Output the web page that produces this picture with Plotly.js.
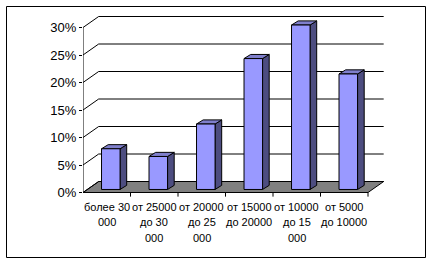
<!DOCTYPE html>
<html>
<head>
<meta charset="utf-8">
<script src="https://cdn.plot.ly/plotly-3.0.1.min.js"></script>
<style>html,body{margin:0;padding:0;background:#fff;}</style>
</head>
<body>
<div id="chart" style="width:431px;height:263px;"></div>
<script>
// ---- data ----
var categories = [
  "более 30<br>000",
  "от 25000<br>до 30<br>000",
  "от 20000<br>до 25<br>000",
  "от 15000<br>до 20000",
  "от 10000<br>до 15<br>000",
  "от 5000<br>до 10000"
];
var values = [7.4, 6.0, 11.9, 23.8, 29.9, 21.0]; // percent
var yTickVals = [0, 5, 10, 15, 20, 25, 30];
var yTickText = ["0%", "5%", "10%", "15%", "20%", "25%", "30%"];

// ---- 3D-look geometry (in data units) ----
var n = categories.length;
var DX = 0.33, DY = 2.0;       // depth of the whole chart (floor/back wall offset)
var HW = 0.195;                // half width of a bar
var XS = 0.085, YS = 0.55;     // bar front face offset into depth
var BDX = 0.14, BDY = 0.75;    // bar depth

var traces = [];
var lineStyle = {color: "#000", width: 1};

// floor
traces.push({x: [0, n, n + DX, DX, 0], y: [0, 0, DY, DY, 0], mode: "lines", fill: "toself",
  fillcolor: "#808080", line: lineStyle, hoverinfo: "skip"});

// back wall gridlines & left wall diagonals
var gx = [], gy = [];
yTickVals.forEach(function (v) {
  gx.push(DX, n + DX, null); gy.push(v + DY, v + DY, null);
  gx.push(0, DX, null); gy.push(v, v + DY, null);
});
traces.push({x: gx, y: gy, mode: "lines", line: lineStyle, hoverinfo: "skip"});

// front axes with ticks
var ax = [0, 0, null, 0, n, null], ay = [yTickVals[yTickVals.length - 1], 0, null, 0, 0, null];
for (var k = 1; k <= n; k++) { ax.push(k, k, null); ay.push(0, -0.75, null); }
traces.push({x: ax, y: ay, mode: "lines", line: lineStyle, hoverinfo: "skip"});

// bars: front, side, top faces
var fx = [], fy = [], sx = [], sy = [], tx = [], ty = [];
values.forEach(function (v, i) {
  var xl = i + 0.5 - HW + XS, xr = i + 0.5 + HW + XS;
  var yb = YS, yt = v + YS;
  fx.push(xl, xr, xr, xl, xl, null); fy.push(yb, yb, yt, yt, yb, null);
  sx.push(xr, xr + BDX, xr + BDX, xr, xr, null); sy.push(yb, yb + BDY, yt + BDY, yt, yb, null);
  tx.push(xl, xr, xr + BDX, xl + BDX, xl, null); ty.push(yt, yt, yt + BDY, yt + BDY, yt, null);
});
traces.push({x: sx, y: sy, mode: "lines", fill: "toself", fillcolor: "#4d4d80", line: lineStyle, hoverinfo: "skip"});
traces.push({x: tx, y: ty, mode: "lines", fill: "toself", fillcolor: "#7f7fcc", line: lineStyle, hoverinfo: "skip"});
traces.push({x: fx, y: fy, mode: "lines", fill: "toself", fillcolor: "#9999ff", line: lineStyle, hoverinfo: "skip"});

var L = 83, R = 44, T = 11, B = 65, W = 431, H = 263;
var pw = W - L - R, ph = H - T - B;
function px2x(p) { return (p - L) / pw; }
function py2y(p) { return (H - B - p) / ph; }

// category labels, one annotation per wrapped line
var annotations = [];
categories.forEach(function (c, i) {
  c.split("<br>").forEach(function (line, j) {
    annotations.push({
      x: i + 0.5, xref: "x", y: py2y(206.5 + j * 15.6), yref: "paper",
      text: line, showarrow: false, xanchor: "center", yanchor: "middle",
      font: {size: 11, family: "Liberation Sans, Arial, sans-serif", color: "#000"}
    });
  });
});

var layout = {
  width: W, height: H,
  margin: {l: L, r: R, t: T, b: B, pad: 0},
  paper_bgcolor: "#fff", plot_bgcolor: "#fff",
  showlegend: false,
  font: {family: "Liberation Sans, Arial, sans-serif", color: "#000"},
  xaxis: {
    range: [0, n + 0.4], fixedrange: true,
    showticklabels: false, ticks: "", showgrid: false, zeroline: false, showline: false
  },
  yaxis: {
    range: [-1, 33], fixedrange: true,
    tickmode: "array", tickvals: yTickVals, ticktext: yTickText,
    ticks: "outside", ticklen: 3, tickcolor: "#000", tickwidth: 1,
    showgrid: false, zeroline: false, showline: false,
    tickfont: {size: 13, family: "Liberation Sans, Arial, sans-serif", color: "#000"}
  },
  annotations: annotations,
  shapes: [{
    type: "rect", xref: "paper", yref: "paper",
    x0: px2x(6.5), x1: px2x(425.5), y0: py2y(257.5), y1: py2y(6.5),
    line: {color: "#000", width: 1}, fillcolor: "rgba(0,0,0,0)"
  }]
};

Plotly.newPlot("chart", traces, layout, {staticPlot: true, displayModeBar: false});
</script>
</body>
</html>
